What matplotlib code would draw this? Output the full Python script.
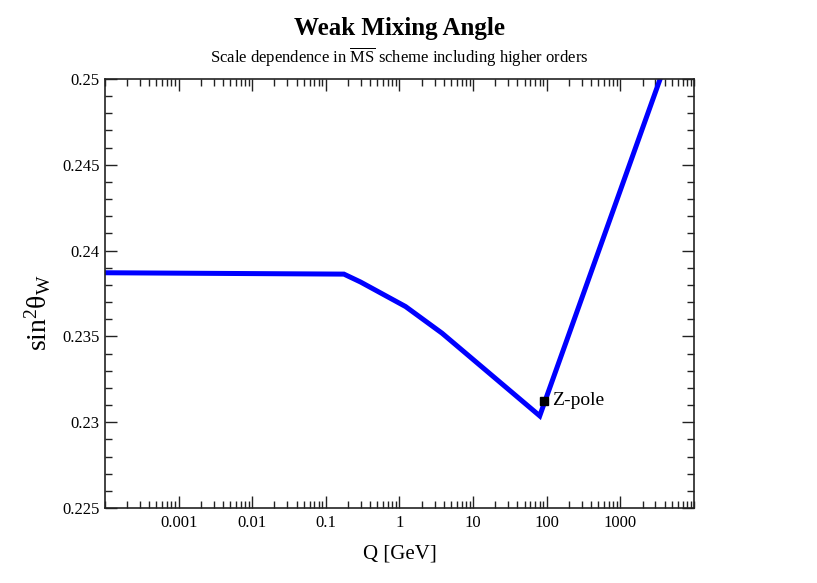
import matplotlib
matplotlib.use("Agg")
import matplotlib.pyplot as plt
from matplotlib.ticker import LogLocator, FixedLocator, FixedFormatter, MultipleLocator, NullFormatter

# Data
Q = [1e-4, 0.176, 0.296, 1.21, 3.78, 80.4, 3470]
sin2 = [0.23871, 0.23863, 0.23817, 0.23674, 0.23519, 0.23037, 0.2500]
zpole_Q = [91.19]
zpole_val = [0.23124]
zpole_label = "Z-pole"
xtick_vals = [0.001, 0.01, 0.1, 1, 10, 100, 1000]
xtick_labels = ["0.001", "0.01", "0.1", "1", "10", "100", "1000"]
ytick_vals = [0.225, 0.23, 0.235, 0.24, 0.245, 0.25]
ytick_labels = ["0.225", "0.23", "0.235", "0.24", "0.245", "0.25"]

plt.rcParams['font.family'] = ['Liberation Serif', 'DejaVu Serif']
plt.rcParams['mathtext.fontset'] = 'custom'
plt.rcParams['mathtext.rm'] = 'Liberation Serif'
plt.rcParams['mathtext.it'] = 'Liberation Serif:italic'
plt.rcParams['mathtext.bf'] = 'Liberation Serif:bold'

fig = plt.figure(figsize=(8.17, 5.83), dpi=100)
ax = fig.add_axes([0.1285, 0.1286, 0.8494 - 0.1285, 0.8645 - 0.1286])

ax.plot(Q, sin2, color='#0000ff', lw=3.6, solid_joinstyle='miter', clip_on=True, zorder=2)
ax.plot(zpole_Q, zpole_val, marker='s', color='black', ms=5.5, ls='none', zorder=3)
ax.annotate(zpole_label, xy=(zpole_Q[0], zpole_val[0]), xytext=(6, 0), textcoords='offset points',
            ha='left', va='center', fontsize=14)

ax.set_xscale('log')
ax.set_xlim(1e-4, 1e4)
ax.set_ylim(0.225, 0.25)

ax.xaxis.set_major_locator(FixedLocator(xtick_vals))
ax.xaxis.set_major_formatter(FixedFormatter(xtick_labels))
ax.xaxis.set_minor_locator(LogLocator(base=10, subs=[1, 2, 3, 4, 5, 6, 7, 8, 9], numticks=50))
ax.xaxis.set_minor_formatter(NullFormatter())
ax.yaxis.set_major_locator(FixedLocator(ytick_vals))
ax.yaxis.set_major_formatter(FixedFormatter(ytick_labels))
ax.yaxis.set_minor_locator(MultipleLocator(0.001))

for s in ax.spines.values():
    s.set_linewidth(1.2)
    s.set_color('#222222')
ax.tick_params(which='both', direction='in', top=True, right=True, color='#222222', width=1.0)
ax.tick_params(which='major', length=8.5, labelsize=12)
ax.tick_params(axis='x', which='major', pad=5)
ax.tick_params(axis='y', which='major', pad=4)
ax.tick_params(which='minor', length=5)

ax.set_xlabel('Q [GeV]', fontsize=15, labelpad=10)
ax.set_ylabel(r'sin$^2$θ$_{\rm W}$', fontsize=20)
ax.yaxis.set_label_coords(-0.088, 0.455)

fig.text(0.489, 0.951, 'Weak Mixing Angle', ha='center', va='center', fontsize=18, fontweight='bold')
fig.text(0.489, 0.901, r'Scale dependence in $\overline{\mathrm{MS}}$ scheme including higher orders',
         ha='center', va='center', fontsize=12)

fig.savefig('out.png', dpi=100)
